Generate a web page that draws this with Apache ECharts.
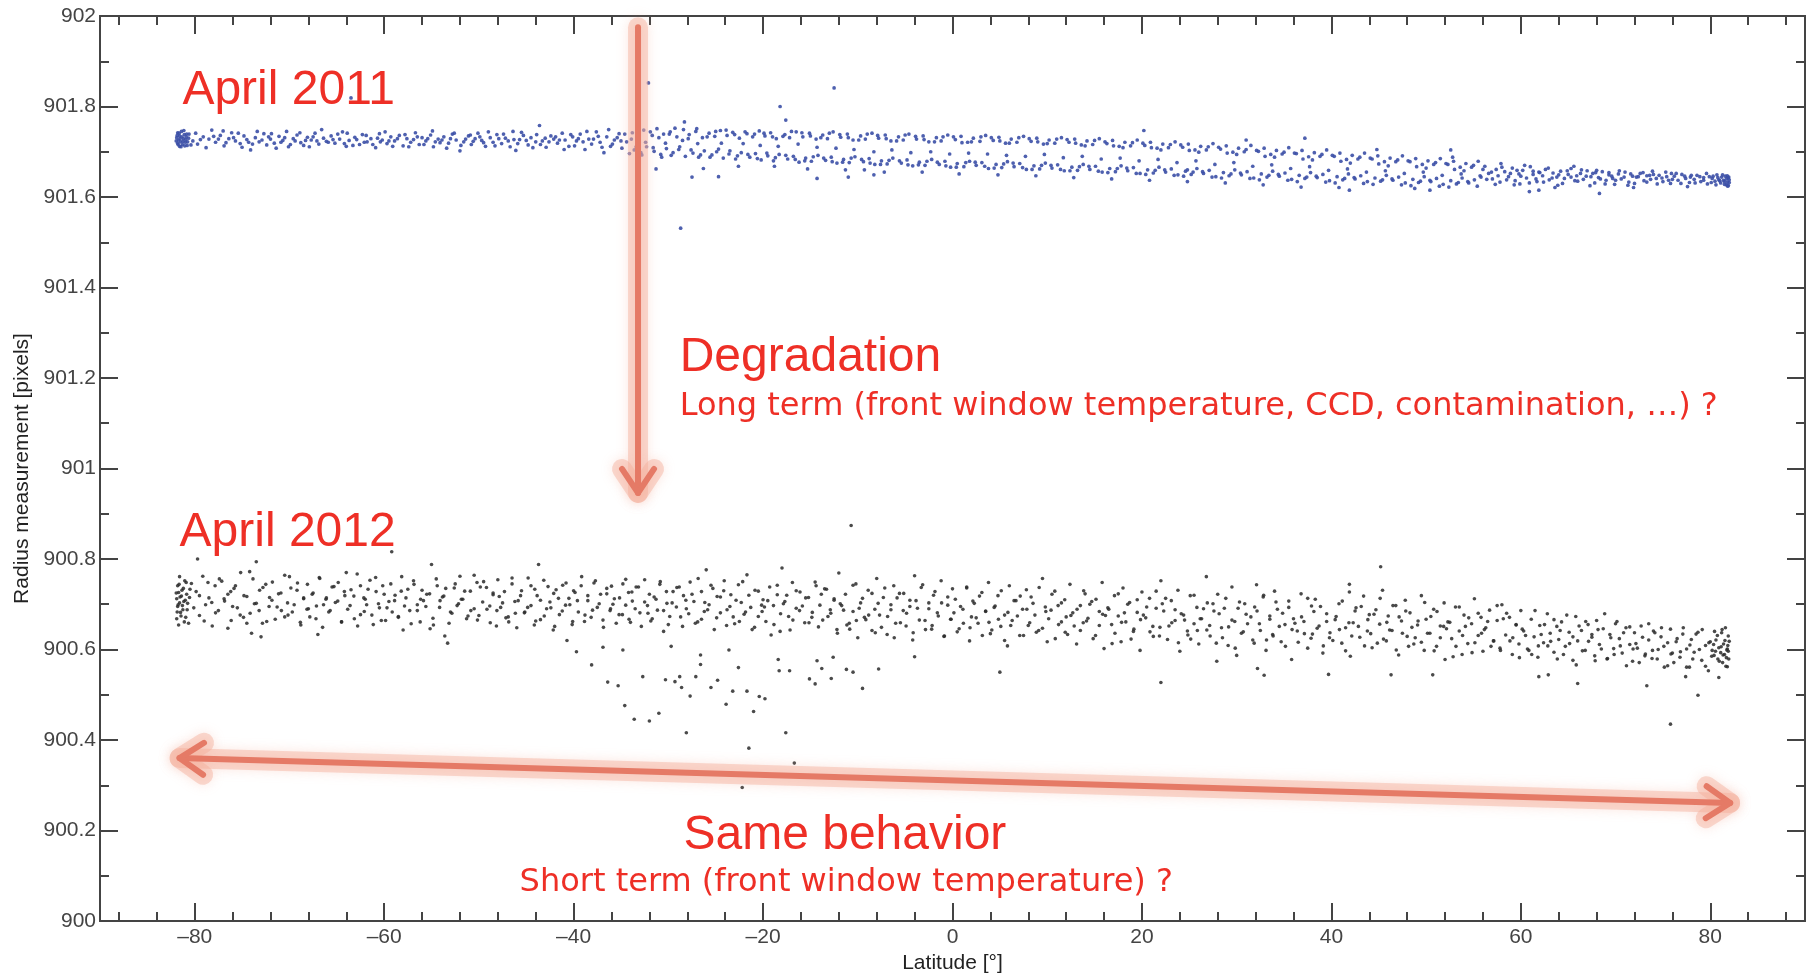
<!DOCTYPE html>
<html><head><meta charset="utf-8">
<script src="https://cdn.jsdelivr.net/npm/echarts@6/dist/echarts.min.js"></script>
<style>html,body{margin:0;padding:0;background:#fff}#c{width:1816px;height:973px}</style>
</head><body><div id="c"></div>
<script>
// ---- axis ticks ----
const xMajorTicks = [-80,-60,-40,-20,0,20,40,60,80];
const xMinorTicks = [-88,-84,-76,-72,-68,-64,-56,-52,-48,-44,-36,-32,-28,-24,-16,-12,-8,-4,4,8,12,16,24,28,32,36,44,48,52,56,64,68,72,76,84,88];

// ---- April 2011 (blue) : [latitude, radius] ----
const april2011 = [
[-81.9,901.731],[-81.8,901.719],[-81.8,901.742],[-81.7,901.726],[-81.6,901.712],[-81.6,901.735],[-81.5,901.722],[-81.4,901.745],[-81.3,901.716],[-81.2,901.729],[-81.1,901.738],[-81.0,901.721],[-80.9,901.733],[-80.8,901.714],
[-81.95,901.724],[-81.85,901.736],[-81.75,901.716],[-81.65,901.741],[-81.55,901.729],[-81.45,901.711],[-81.35,901.733],[-81.25,901.723],[-81.15,901.747],[-81.05,901.713],[-80.95,901.727],[-80.85,901.739],[-80.75,901.722],[-80.65,901.730],
[-80.6,901.739],[-80.2,901.724],[-79.7,901.717],[-79.1,901.733],[-78.5,901.728],[-78.2,901.748],[-80.4,901.715],[-79.9,901.741],[-79.4,901.727],[-78.8,901.709],
[-77.8,901.721],[-77.3,901.736],[-76.9,901.713],[-76.4,901.729],[-76.1,901.742],[-78.0,901.734],[-77.5,901.728],[-77.0,901.746],[-76.7,901.720],
[-75.7,901.724],[-75.2,901.718],[-74.8,901.735],[-74.5,901.727],[-74.1,901.704],[-75.9,901.731],[-75.4,901.741],[-75.0,901.710],[-74.3,901.721],
[-73.6,901.731],[-73.2,901.722],[-72.7,901.740],[-72.4,901.715],[-72.0,901.728],[-73.9,901.717],[-73.4,901.745],[-72.9,901.726],[-72.2,901.733],
[-71.6,901.719],[-71.1,901.734],[-70.7,901.725],[-70.3,901.745],[-70.1,901.711],[-71.9,901.740],[-71.4,901.708],[-70.9,901.721],[-70.5,901.731],
[-69.6,901.729],[-69.2,901.737],[-68.8,901.720],[-68.5,901.714],[-68.1,901.732],[-69.9,901.716],[-69.4,901.724],[-68.9,901.742],[-68.3,901.725],
[-67.7,901.726],[-67.3,901.741],[-66.9,901.717],[-66.4,901.730],[-66.1,901.723],[-67.9,901.711],[-67.5,901.733],[-67.1,901.724],[-66.6,901.749],
[-65.6,901.735],[-65.2,901.719],[-64.7,901.728],[-64.4,901.744],[-64.0,901.712],[-65.9,901.721],[-65.4,901.727],[-64.9,901.739],[-64.2,901.718],
[-63.7,901.725],[-63.1,901.732],[-62.6,901.716],[-62.3,901.738],[-63.9,901.741],[-63.3,901.714],[-62.9,901.727],[-62.1,901.721],
[-61.8,901.722],[-61.4,901.729],[-60.9,901.709],[-60.5,901.740],[-60.2,901.726],[-61.9,901.736],[-61.2,901.716],[-60.7,901.730],[-60.4,901.722],
[-59.7,901.718],[-59.3,901.733],[-58.9,901.724],[-58.4,901.736],[-58.0,901.713],[-59.9,901.744],[-59.5,901.724],[-59.1,901.712],[-58.6,901.729],
[-57.6,901.729],[-57.2,901.721],[-56.7,901.742],[-56.3,901.716],[-56.0,901.731],[-57.8,901.738],[-57.4,901.711],[-56.9,901.727],[-56.5,901.733],
[-55.6,901.724],[-55.1,901.737],[-54.8,901.711],[-54.3,901.728],[-54.1,901.720],[-55.8,901.716],[-55.4,901.729],[-54.9,901.746],[-54.6,901.722],
[-53.7,901.733],[-53.2,901.719],[-52.8,901.739],[-52.4,901.726],[-52.0,901.702],[-53.9,901.726],[-53.4,901.708],[-53.0,901.729],[-52.6,901.741],
[-51.6,901.722],[-51.1,901.735],[-50.8,901.716],[-50.4,901.729],[-50.1,901.741],[-51.9,901.714],[-51.4,901.728],[-50.9,901.737],[-50.6,901.723],
[-49.7,901.725],[-49.3,901.712],[-48.8,901.731],[-48.5,901.721],[-48.1,901.738],[-49.9,901.733],[-49.5,901.720],[-49.0,901.744],[-48.3,901.713],
[-47.6,901.718],[-47.2,901.730],[-46.9,901.724],[-46.4,901.745],[-46.1,901.703],[-47.9,901.729],[-47.4,901.739],[-46.7,901.711],[-46.3,901.727],
[-45.7,901.727],[-45.3,901.736],[-44.8,901.715],[-44.5,901.731],[-44.0,901.722],[-45.9,901.718],[-45.5,901.743],[-45.0,901.725],[-44.3,901.709],
[-43.3,901.724],[-42.9,901.710],[-42.4,901.735],[-42.1,901.728],[-43.9,901.738],[-43.5,901.716],[-43.0,901.730],[-42.6,901.722],
[-41.7,901.719],[-41.2,901.741],[-40.9,901.726],[-40.5,901.712],[-40.1,901.733],[-41.9,901.733],[-41.5,901.726],[-41.0,901.705],[-40.3,901.738],
[-39.7,901.724],[-39.3,901.739],[-38.8,901.705],[-38.4,901.728],[-38.1,901.717],[-39.9,901.713],[-39.5,901.729],[-39.0,901.722],[-38.6,901.745],
[-37.6,901.744],[-37.2,901.721],[-36.8,901.698],[-36.5,901.733],[-36.1,901.712],[-37.9,901.728],[-37.4,901.734],[-37.0,901.710],[-36.3,901.749],
[-35.7,901.726],[-35.2,901.740],[-34.9,901.708],[-34.4,901.722],[-34.1,901.696],[-35.9,901.717],[-35.4,901.731],[-35.0,901.724],[-34.6,901.739],
[-33.8,901.742],[-33.3,901.733],[-32.6,901.748],[-33.6,901.704],[-32.9,901.698],[-32.3,901.711],[-33.9,901.728],[-33.1,901.746],[-33.4,901.711],[-32.8,901.693],[-32.4,901.721],
[-31.7,901.736],[-31.2,901.751],[-30.5,901.739],[-31.5,901.701],[-30.8,901.694],[-30.2,901.707],[-31.9,901.744],[-31.0,901.731],[-31.6,901.709],[-30.7,901.688],[-30.3,901.719],[-31.3,901.662],
[-29.8,901.744],[-29.1,901.733],[-28.4,901.749],[-29.5,901.698],[-28.9,901.705],[-28.2,901.690],[-29.9,901.739],[-29.3,901.752],[-29.7,901.692],[-28.8,901.711],[-28.5,901.725],
[-27.8,901.738],[-27.1,901.745],[-26.4,901.731],[-27.4,901.697],[-26.8,901.688],[-26.2,901.702],[-27.9,901.729],[-27.0,901.751],[-27.6,901.704],[-26.6,901.693],[-26.9,901.718],[-26.3,901.663],
[-25.7,901.741],[-25.1,901.734],[-24.5,901.747],[-25.4,901.693],[-24.9,901.700],[-24.2,901.686],[-25.9,901.733],[-25.0,901.745],[-25.6,901.688],[-24.7,901.706],[-24.4,901.719],
[-23.8,901.736],[-23.2,901.743],[-22.5,901.730],[-23.6,901.695],[-22.9,901.684],[-22.3,901.698],[-23.9,901.748],[-23.0,901.738],[-23.5,901.702],[-22.7,901.691],[-22.1,901.718],[-22.6,901.668],
[-21.7,901.740],[-21.1,901.733],[-20.4,901.746],[-21.4,901.688],[-20.8,901.696],[-20.2,901.682],[-21.9,901.744],[-20.9,901.739],[-21.6,901.694],[-20.6,901.685],[-20.3,901.714],
[-19.8,901.735],[-19.2,901.742],[-18.6,901.729],[-19.5,901.691],[-18.9,901.680],[-18.3,901.694],[-19.9,901.741],[-19.0,901.733],[-19.6,901.697],[-18.7,901.687],[-18.4,901.712],[-18.8,901.668],
[-17.7,901.738],[-17.2,901.731],[-16.5,901.744],[-17.4,901.684],[-16.8,901.690],[-16.2,901.677],[-17.9,901.734],[-17.0,901.745],[-17.6,901.692],[-16.6,901.683],[-16.3,901.717],
[-15.8,901.733],[-15.1,901.741],[-14.4,901.728],[-15.5,901.686],[-14.9,901.679],[-14.2,901.692],[-15.9,901.742],[-15.0,901.735],[-15.6,901.680],[-14.7,901.689],[-14.3,901.710],[-15.3,901.662],
[-13.7,901.737],[-13.2,901.729],[-12.6,901.744],[-13.4,901.681],[-12.8,901.688],[-12.2,901.675],[-13.9,901.731],[-13.0,901.741],[-13.6,901.686],[-12.7,901.678],[-12.3,901.708],
[-11.8,901.732],[-11.1,901.739],[-10.5,901.726],[-11.5,901.683],[-10.9,901.676],[-10.3,901.689],[-11.9,901.738],[-11.0,901.731],[-11.6,901.677],[-10.7,901.686],[-10.4,901.705],[-11.3,901.660],
[-9.7,901.735],[-9.2,901.728],[-8.5,901.741],[-9.4,901.678],[-8.8,901.685],[-8.2,901.672],[-9.9,901.726],[-9.0,901.739],[-9.6,901.683],[-8.7,901.675],[-8.3,901.700],
[-7.8,901.730],[-7.1,901.737],[-6.5,901.724],[-7.5,901.680],[-6.9,901.673],[-6.3,901.686],[-7.9,901.736],[-7.0,901.729],[-7.6,901.672],[-6.7,901.681],[-6.4,901.704],[-7.2,901.655],
[-5.7,901.733],[-5.2,901.726],[-4.6,901.739],[-5.4,901.675],[-4.8,901.682],[-4.2,901.669],[-5.9,901.724],[-5.0,901.737],[-5.6,901.680],[-4.7,901.671],[-4.4,901.698],
[-3.8,901.728],[-3.1,901.735],[-2.5,901.722],[-3.5,901.677],[-2.9,901.670],[-2.2,901.683],[-3.9,901.734],[-3.0,901.727],[-3.6,901.671],[-2.7,901.679],[-2.3,901.700],[-3.2,901.655],
[-1.7,901.731],[-1.2,901.724],[-0.5,901.737],[-1.4,901.672],[-0.8,901.679],[-0.2,901.666],[-1.9,901.722],[-1.0,901.733],[-1.6,901.677],[-0.7,901.669],[-0.3,901.695],
[0.3,901.727],[0.9,901.734],[1.6,901.721],[0.5,901.674],[1.2,901.667],[1.8,901.679],[0.1,901.733],[1.0,901.720],[0.4,901.666],[1.4,901.676],[1.7,901.697],[0.7,901.651],
[2.2,901.730],[2.9,901.723],[3.5,901.736],[2.5,901.670],[3.1,901.676],[3.8,901.663],[2.0,901.722],[3.0,901.733],[2.4,901.677],[3.4,901.668],[3.7,901.695],
[4.3,901.725],[4.9,901.732],[5.6,901.719],[4.6,901.672],[5.2,901.665],[5.8,901.678],[4.1,901.731],[5.0,901.724],[4.4,901.664],[5.4,901.673],[5.7,901.692],[4.8,901.649],
[6.2,901.728],[6.8,901.721],[7.5,901.734],[6.5,901.667],[7.1,901.674],[7.8,901.661],[6.0,901.719],[7.0,901.731],[6.4,901.675],[7.4,901.665],[7.7,901.690],
[8.3,901.723],[8.9,901.730],[9.6,901.717],[8.6,901.669],[9.2,901.662],[9.8,901.675],[8.1,901.729],[9.0,901.722],[8.4,901.661],[9.4,901.670],[9.7,901.694],[8.8,901.647],
[10.2,901.726],[10.8,901.719],[11.5,901.731],[10.5,901.664],[11.1,901.671],[11.8,901.658],[10.0,901.718],[11.0,901.728],[10.4,901.670],[11.4,901.661],[11.7,901.687],
[12.3,901.721],[12.9,901.728],[13.6,901.715],[12.6,901.666],[13.2,901.659],[13.8,901.672],[12.1,901.727],[13.0,901.719],[12.4,901.658],[13.4,901.667],[13.7,901.690],[12.8,901.643],
[14.2,901.724],[14.8,901.716],[15.5,901.729],[14.5,901.661],[15.1,901.668],[15.8,901.655],[14.0,901.713],[15.0,901.725],[14.4,901.668],[15.4,901.657],[15.7,901.684],
[16.3,901.718],[16.9,901.725],[17.6,901.712],[16.6,901.663],[17.2,901.656],[17.8,901.669],[16.1,901.722],[17.0,901.713],[16.4,901.654],[17.4,901.663],[17.7,901.686],[16.8,901.640],
[18.2,901.721],[18.8,901.713],[19.5,901.726],[18.5,901.658],[19.1,901.665],[19.8,901.652],[18.0,901.709],[19.0,901.720],[18.4,901.664],[19.4,901.652],[19.7,901.680],
[20.3,901.714],[20.9,901.721],[21.6,901.708],[20.6,901.660],[21.2,901.653],[21.8,901.666],[20.1,901.719],[21.0,901.709],[20.4,901.650],[21.4,901.659],[21.7,901.683],[20.8,901.637],
[22.2,901.717],[22.8,901.709],[23.5,901.722],[22.5,901.655],[23.1,901.662],[23.8,901.649],[22.0,901.704],[23.0,901.716],[22.4,901.660],[23.4,901.648],[23.7,901.676],
[24.3,901.710],[24.9,901.717],[25.6,901.704],[24.6,901.657],[25.2,901.650],[25.8,901.663],[24.1,901.715],[25.0,901.703],[24.4,901.646],[25.4,901.655],[25.7,901.680],[24.8,901.634],
[26.2,901.712],[26.8,901.704],[27.5,901.718],[26.5,901.652],[27.1,901.659],[27.8,901.645],[26.0,901.699],[27.0,901.711],[26.4,901.656],[27.4,901.644],[27.7,901.672],
[28.3,901.706],[28.9,901.713],[29.6,901.699],[28.6,901.654],[29.2,901.647],[29.8,901.660],[28.1,901.710],[29.0,901.697],[28.4,901.642],[29.4,901.651],[29.7,901.676],[28.8,901.631],
[30.2,901.708],[30.8,901.700],[31.5,901.714],[30.5,901.649],[31.1,901.656],[31.8,901.642],[30.0,901.694],[31.0,901.705],[30.4,901.653],[31.4,901.641],[31.7,901.668],
[32.3,901.701],[32.9,901.708],[33.6,901.694],[32.6,901.651],[33.2,901.644],[33.8,901.657],[32.1,901.703],[33.0,901.690],[32.4,901.638],[33.4,901.648],[33.7,901.671],[32.8,901.627],
[34.2,901.703],[34.8,901.695],[35.5,901.709],[34.5,901.646],[35.1,901.653],[35.8,901.639],[34.0,901.688],[35.0,901.699],[34.4,901.650],[35.4,901.637],[35.7,901.663],
[36.3,901.696],[36.9,901.703],[37.6,901.689],[36.6,901.648],[37.2,901.641],[37.8,901.654],[36.1,901.697],[37.0,901.684],[36.4,901.634],[37.4,901.644],[37.7,901.667],[36.8,901.622],
[38.2,901.698],[38.8,901.690],[39.5,901.704],[38.5,901.643],[39.1,901.650],[39.8,901.636],[38.0,901.682],[39.0,901.694],[38.4,901.646],[39.4,901.633],[39.7,901.659],
[40.3,901.690],[40.9,901.697],[41.6,901.683],[40.6,901.645],[41.2,901.638],[41.8,901.651],[40.1,901.692],[41.0,901.679],[40.4,901.631],[41.4,901.641],[41.7,901.662],[40.8,901.621],
[42.2,901.692],[42.8,901.684],[43.5,901.697],[42.5,901.640],[43.1,901.647],[43.8,901.634],[42.0,901.675],[43.0,901.688],[42.4,901.643],[43.4,901.630],[43.7,901.655],
[44.3,901.684],[44.9,901.691],[45.6,901.678],[44.6,901.642],[45.2,901.635],[45.8,901.648],[44.1,901.686],[45.0,901.673],[44.4,901.628],[45.4,901.638],[45.7,901.658],[44.8,901.705],
[46.2,901.686],[46.8,901.678],[47.5,901.691],[46.5,901.637],[47.1,901.644],[47.8,901.631],[46.0,901.669],[47.0,901.682],[46.4,901.640],[47.4,901.627],[47.7,901.652],
[48.3,901.678],[48.9,901.685],[49.6,901.672],[48.6,901.639],[49.2,901.632],[49.8,901.645],[48.1,901.680],[49.0,901.667],[48.4,901.625],[49.4,901.635],[49.7,901.655],[48.8,901.619],
[50.2,901.680],[50.8,901.672],[51.5,901.685],[50.5,901.634],[51.1,901.641],[51.8,901.628],[50.0,901.664],[51.0,901.676],[50.4,901.637],[51.4,901.624],[51.7,901.648],
[52.3,901.672],[52.9,901.679],[53.6,901.666],[52.6,901.636],[53.2,901.629],[53.8,901.642],[52.1,901.674],[53.0,901.661],[52.4,901.622],[53.4,901.632],[53.7,901.651],[52.8,901.688],
[54.2,901.674],[54.8,901.666],[55.5,901.679],[54.5,901.631],[55.1,901.638],[55.8,901.644],[54.0,901.658],[55.0,901.670],[54.4,901.634],[55.4,901.624],[55.7,901.647],
[56.2,901.668],[56.6,901.652],[57.0,901.640],[57.4,901.661],[57.8,901.633],[57.9,901.674],[56.0,901.661],[56.4,901.639],[56.9,901.655],[57.3,901.628],[57.6,901.647],
[58.3,901.656],[58.7,901.645],[59.1,901.664],[59.4,901.636],[59.8,901.651],[59.9,901.629],[58.0,901.666],[58.5,901.638],[58.9,901.652],[59.3,901.627],[59.6,901.659],
[60.2,901.659],[60.6,901.642],[61.0,901.667],[61.3,901.650],[61.7,901.634],[61.9,901.655],[60.0,901.646],[60.4,901.670],[60.9,901.631],[61.3,901.657],[61.6,901.640],
[62.3,901.647],[62.6,901.661],[63.0,901.638],[63.4,901.653],[63.8,901.644],[63.9,901.626],[62.0,901.654],[62.4,901.633],[62.9,901.664],[63.3,901.642],[63.6,901.621],
[64.2,901.657],[64.6,901.641],[65.0,901.650],[65.3,901.663],[65.7,901.636],[65.9,901.647],[64.0,901.649],[64.4,901.630],[64.9,901.658],[65.3,901.644],[65.6,901.668],
[66.3,901.652],[66.6,901.639],[67.0,901.658],[67.4,901.645],[67.8,901.631],[67.9,901.654],[66.0,901.635],[66.4,901.660],[66.9,901.646],[67.3,901.625],[67.6,901.652],
[68.2,901.643],[68.6,901.656],[69.0,901.637],[69.3,901.649],[69.7,901.641],[69.9,901.628],[68.0,901.659],[68.4,901.640],[68.9,901.629],[69.3,901.654],[69.6,901.646],
[70.3,901.651],[70.6,901.640],[71.0,901.655],[71.4,901.633],[71.8,901.646],[71.9,901.621],[70.0,901.637],[70.4,901.658],[70.9,901.644],[71.3,901.626],[71.6,901.651],
[72.2,901.644],[72.6,901.652],[73.0,901.636],[73.3,901.647],[73.7,901.639],[73.9,901.657],[72.0,901.630],[72.4,901.645],[72.9,901.654],[73.3,901.633],[73.6,901.648],
[74.3,901.641],[74.6,901.648],[75.0,901.634],[75.4,901.645],[75.8,901.630],[75.9,901.652],[74.0,901.650],[74.4,901.629],[74.9,901.642],[75.3,901.655],[75.6,901.637],
[76.2,901.646],[76.6,901.637],[77.0,901.650],[77.4,901.641],[77.8,901.632],[77.9,901.644],[76.0,901.639],[76.4,901.652],[76.9,901.630],[77.3,901.646],[77.6,901.623],
[78.3,901.639],[78.6,901.648],[79.0,901.634],[79.3,901.643],[79.7,901.629],[79.9,901.645],[78.0,901.648],[78.4,901.631],[78.9,901.645],[79.3,901.637],[79.6,901.652],
[80.2,901.641],[80.5,901.635],[80.7,901.649],[80.9,901.638],[81.1,901.631],[81.2,901.644],[81.4,901.637],[81.5,901.628],[81.6,901.646],[81.7,901.640],[81.8,901.633],[81.9,901.642],[81.9,901.626],[82.0,901.638],
[80.1,901.632],[80.3,901.646],[80.6,901.627],[80.8,901.643],[81.0,901.636],[81.3,901.649],[81.5,901.634],[81.7,901.627],[81.8,901.647],[82.0,901.632],[81.95,901.644],[81.85,901.624],
// isolated points
[-63.5,901.819],[-43.6,901.758],[-32.1,901.852],[-28.7,901.531],[-27.5,901.644],[-28.3,901.766],[-24.7,901.645],[-18.2,901.800],[-17.6,901.770],
[-14.3,901.641],[-12.5,901.841],[-11.0,901.644],[-9.3,901.660],[-8.3,901.649],[20.2,901.747],[24.8,901.660],[31.0,901.726],[37.2,901.730],
[41.9,901.615],[50.4,901.615],[52.6,901.704],[60.9,901.612],[61.9,901.615],[68.3,901.608]
];

// ---- April 2012 (black) : [latitude, radius] ----
const april2012 = [
[-81.9,900.712],[-81.9,900.668],[-81.8,900.741],[-81.8,900.695],[-81.7,900.654],[-81.7,900.726],[-81.6,900.703],[-81.6,900.761],[-81.5,900.682],[-81.4,900.718],[-81.3,900.697],[-81.2,900.735],[-81.1,900.661],[-81.0,900.709],[-80.9,900.748],[-80.8,900.688],
[-81.95,900.725],[-81.85,900.683],[-81.75,900.699],[-81.65,900.744],[-81.55,900.716],[-81.45,900.674],[-81.35,900.731],[-81.25,900.688],[-81.15,900.706],[-81.05,900.752],[-80.95,900.671],[-80.85,900.722],[-80.75,900.702],[-80.65,900.658],[-80.55,900.715],[-80.35,900.746],
[-80.5,900.733],[-80.1,900.692],[-79.5,900.719],[-79.0,900.663],[-78.6,900.748],[-78.2,900.704],
[-79.85,900.728],[-79.5,900.675],[-79.15,900.762],[-78.85,900.699],[-78.5,900.714],[-78.15,900.652],
[-77.8,900.681],[-77.4,900.756],[-76.9,900.712],[-76.5,900.647],[-76.2,900.728],[-76.0,900.695],
[-77.85,900.741],[-77.5,900.686],[-77.15,900.751],[-76.85,900.707],[-76.5,900.722],[-76.15,900.664],
[-75.7,900.741],[-75.2,900.676],[-74.8,900.719],[-74.5,900.658],[-74.2,900.772],
[-75.85,900.735],[-75.5,900.692],[-75.15,900.770],[-74.85,900.671],[-74.5,900.717],[-74.15,900.680],
[-73.7,900.701],[-73.2,900.686],[-72.8,900.737],[-72.4,900.662],[-72.1,900.715],
[-73.85,900.756],[-73.5,900.702],[-73.15,900.731],[-72.85,900.658],[-72.5,900.744],[-72.15,900.695],
[-71.8,900.749],[-71.3,900.694],[-70.9,900.725],[-70.5,900.672],[-70.2,900.703],[-70.0,900.761],
[-71.85,900.709],[-71.5,900.667],[-71.15,900.723],[-70.85,900.686],[-70.5,900.764],[-70.15,900.676],
[-69.7,900.683],[-69.2,900.731],[-68.8,900.654],[-68.5,900.712],[-68.1,900.744],[-68.0,900.690],
[-69.85,900.736],[-69.5,900.699],[-69.15,900.747],[-68.85,900.660],[-68.5,900.714],[-68.15,900.689],
[-67.6,900.722],[-67.2,900.668],[-66.8,900.757],[-66.4,900.699],[-66.1,900.714],
[-67.85,900.672],[-67.5,900.725],[-67.15,900.696],[-66.85,900.759],[-66.5,900.649],[-66.15,900.711],
[-65.7,900.686],[-65.3,900.739],[-64.9,900.707],[-64.5,900.661],[-64.2,900.728],[-64.0,900.770],
[-65.85,900.683],[-65.5,900.738],[-65.15,900.704],[-64.85,900.748],[-64.5,900.661],[-64.15,900.719],
[-63.6,900.697],[-63.2,900.718],[-62.8,900.652],[-62.5,900.741],[-62.1,900.684],[-62.0,900.711],
[-63.85,900.689],[-63.5,900.732],[-63.15,900.668],[-62.85,900.767],[-62.5,900.677],[-62.15,900.714],
[-61.7,900.733],[-61.3,900.676],[-60.9,900.759],[-60.6,900.701],[-60.3,900.664],[-60.0,900.722],
[-61.85,900.699],[-61.5,900.753],[-61.15,900.655],[-60.85,900.728],[-60.5,900.692],[-60.15,900.741],
[-59.7,900.692],[-59.3,900.745],[-58.9,900.708],[-58.5,900.671],[-58.2,900.729],[-58.0,900.643],
[-59.85,900.664],[-59.5,900.706],[-59.15,900.683],[-58.85,900.720],[-58.5,900.673],[-58.15,900.761],
[-57.7,900.714],[-57.3,900.686],[-56.9,900.752],[-56.5,900.699],[-56.2,900.661],[-56.0,900.731],
[-57.85,900.696],[-57.5,900.733],[-57.15,900.657],[-56.85,900.744],[-56.5,900.686],[-56.15,900.711],
[-55.6,900.695],[-55.2,900.723],[-54.8,900.654],[-54.4,900.741],[-54.1,900.708],
[-55.85,900.708],[-55.5,900.722],[-55.15,900.646],[-54.85,900.669],[-54.5,900.756],[-54.15,900.693],
[-53.7,900.718],[-53.0,900.683],[-52.6,900.736],[-52.3,900.697],[-52.0,900.762],
[-53.85,900.716],[-53.5,900.735],[-53.15,900.658],[-52.85,900.680],[-52.5,900.745],[-52.15,900.701],
[-51.7,900.711],[-51.3,900.668],[-50.9,900.729],[-50.5,900.690],[-50.2,900.748],[-50.0,900.675],
[-51.85,900.711],[-51.5,900.729],[-51.15,900.674],[-50.85,900.686],[-50.5,900.764],[-50.15,900.665],
[-49.6,900.705],[-49.2,900.737],[-48.8,900.659],[-48.5,900.721],[-48.1,900.686],[-48.0,900.754],
[-49.85,900.738],[-49.5,900.750],[-49.15,900.689],[-48.85,900.696],[-48.5,900.725],[-48.15,900.652],
[-47.7,900.693],[-47.3,900.728],[-46.9,900.672],[-46.5,900.745],[-46.2,900.706],[-46.0,900.648],
[-47.85,900.717],[-47.5,900.703],[-47.15,900.670],[-46.85,900.661],[-46.5,900.758],[-46.15,900.680],
[-45.6,900.719],[-45.2,900.681],[-44.8,900.758],[-44.5,900.697],[-44.1,900.733],[-44.0,900.663],
[-45.85,900.708],[-45.5,900.730],[-45.15,900.683],[-44.85,900.693],[-44.5,900.741],[-44.15,900.654],
[-43.5,900.709],[-43.1,900.674],[-42.7,900.739],[-42.4,900.692],[-42.1,900.724],[-42.0,900.651],
[-43.85,900.719],[-43.5,900.666],[-43.15,900.753],[-42.85,900.690],[-42.5,900.705],[-42.15,900.643],
[-41.6,900.713],[-41.2,900.685],[-40.8,900.747],[-40.4,900.699],[-40.1,900.662],[-40.0,900.730],
[-41.85,900.732],[-41.5,900.677],[-41.15,900.742],[-40.85,900.698],[-40.5,900.713],[-40.15,900.655],
[-39.6,900.708],[-39.2,900.741],[-38.8,900.676],[-38.5,900.719],[-38.0,900.687],
[-39.85,900.726],[-39.5,900.683],[-39.15,900.761],[-38.85,900.662],[-38.5,900.708],[-38.15,900.671],
[-37.7,900.752],[-37.3,900.701],[-36.9,900.665],[-36.5,900.723],[-36.1,900.690],[-36.0,900.740],
[-37.85,900.747],[-37.5,900.693],[-37.15,900.722],[-36.85,900.649],[-36.5,900.735],[-36.15,900.686],
[-35.7,900.712],[-35.2,900.677],[-34.8,900.745],[-34.5,900.698],[-34.2,900.726],[-34.0,900.660],
[-35.85,900.700],[-35.5,900.658],[-35.15,900.714],[-34.85,900.677],[-34.5,900.755],[-34.15,900.667],
[-33.8,900.707],[-33.4,900.738],[-33.0,900.681],[-32.5,900.754],[-32.2,900.697],[-32.0,900.722],
[-33.85,900.727],[-33.5,900.690],[-33.15,900.738],[-32.85,900.651],[-32.5,900.705],[-32.15,900.680],
[-31.7,900.668],[-31.3,900.711],[-30.9,900.744],[-30.5,900.686],[-30.2,900.728],[-30.0,900.655],
[-31.85,900.663],[-31.5,900.716],[-31.15,900.687],[-30.85,900.750],[-30.5,900.640],[-30.15,900.702],
[-29.6,900.703],[-29.1,900.737],[-28.7,900.672],[-28.4,900.719],[-28.1,900.690],
[-29.85,900.673],[-29.5,900.728],[-29.15,900.694],[-28.85,900.738],[-28.5,900.651],[-28.15,900.709],
[-27.7,900.749],[-27.3,900.706],[-26.9,900.661],[-26.5,900.728],[-26.2,900.684],[-26.0,900.776],
[-27.85,900.679],[-27.5,900.722],[-27.15,900.658],[-26.85,900.757],[-26.5,900.667],[-26.15,900.704],
[-25.7,900.699],[-25.3,900.735],[-24.9,900.670],[-24.5,900.716],[-24.1,900.752],
[-25.85,900.688],[-25.5,900.742],[-25.15,900.644],[-24.85,900.717],[-24.5,900.681],[-24.15,900.730],
[-23.8,900.688],[-23.4,900.721],[-23.0,900.657],[-22.6,900.743],[-22.3,900.704],[-22.0,900.678],
[-23.85,900.653],[-23.5,900.695],[-23.15,900.672],[-22.85,900.709],[-22.5,900.662],[-22.15,900.750],
[-21.7,900.765],[-21.3,900.693],[-20.9,900.649],[-20.5,900.729],[-20.1,900.684],[-20.0,900.710],
[-21.85,900.683],[-21.5,900.720],[-21.15,900.644],[-20.85,900.731],[-20.5,900.673],[-20.15,900.698],
[-19.7,900.662],[-19.3,900.738],[-18.9,900.697],[-18.5,900.721],[-18.2,900.640],[-18.0,900.780],
[-19.85,900.694],[-19.5,900.708],[-19.15,900.632],[-18.85,900.655],[-18.5,900.742],[-18.15,900.679],
[-17.7,900.706],[-17.3,900.673],[-16.9,900.748],[-16.5,900.691],[-16.1,900.727],
[-17.85,900.701],[-17.5,900.720],[-17.15,900.643],[-16.85,900.665],[-16.5,900.730],[-16.15,900.686],
[-15.6,900.659],[-15.2,900.715],[-14.8,900.682],[-14.4,900.741],[-14.0,900.698],
[-15.85,900.696],[-15.5,900.714],[-15.15,900.659],[-14.85,900.671],[-14.5,900.749],[-14.15,900.650],
[-13.7,900.665],[-13.3,900.733],[-12.9,900.688],[-12.5,900.712],[-12.2,900.644],[-12.0,900.769],
[-13.85,900.722],[-13.5,900.734],[-13.15,900.673],[-12.85,900.680],[-12.5,900.709],[-12.15,900.636],
[-11.7,900.697],[-11.3,900.722],[-10.9,900.658],[-10.5,900.684],[-10.2,900.745],[-10.0,900.626],
[-11.85,900.701],[-11.5,900.687],[-11.15,900.654],[-10.85,900.645],[-10.5,900.742],[-10.15,900.664],
[-9.7,900.703],[-9.3,900.671],[-8.9,900.731],[-8.5,900.642],[-8.2,900.689],[-8.0,900.757],
[-9.85,900.691],[-9.5,900.713],[-9.15,900.666],[-8.85,900.676],[-8.5,900.724],[-8.15,900.637],
[-7.7,900.676],[-7.3,900.715],[-6.9,900.633],[-6.5,900.699],[-6.2,900.741],[-6.0,900.658],
[-7.85,900.702],[-7.5,900.649],[-7.15,900.736],[-6.85,900.673],[-6.5,900.688],[-6.15,900.626],
[-5.6,900.724],[-5.2,900.686],[-4.9,900.652],[-4.5,900.709],[-4.2,900.621],[-4.0,900.763],
[-5.85,900.714],[-5.5,900.659],[-5.15,900.724],[-4.85,900.680],[-4.5,900.695],[-4.15,900.637],
[-3.7,900.691],[-3.3,900.737],[-2.9,900.664],[-2.5,900.703],[-2.2,900.645],[-2.0,900.720],
[-3.85,900.708],[-3.5,900.665],[-3.15,900.743],[-2.85,900.644],[-2.5,900.690],[-2.15,900.653],
[-1.6,900.681],[-1.2,900.752],[-0.9,900.629],[-0.5,900.698],[-0.2,900.667],[0.0,900.734],
[-1.85,900.728],[-1.5,900.674],[-1.15,900.703],[-0.85,900.630],[-0.5,900.716],[-0.15,900.667],
[0.3,900.711],[0.7,900.646],[1.1,900.689],[1.5,900.738],[1.8,900.619],[2.0,900.672],
[0.15,900.681],[0.5,900.639],[0.85,900.695],[1.15,900.658],[1.5,900.736],[1.85,900.648],
[2.3,900.702],[2.7,900.658],[3.1,900.726],[3.5,900.684],[3.8,900.748],[4.0,900.635],
[2.15,900.707],[2.5,900.670],[2.85,900.718],[3.15,900.631],[3.5,900.685],[3.85,900.660],
[4.4,900.693],[4.8,900.719],[5.1,900.651],[5.5,900.676],[5.8,900.608],[6.0,900.741],
[4.15,900.643],[4.5,900.696],[4.85,900.667],[5.15,900.730],[5.5,900.620],[5.85,900.682],
[6.3,900.664],[6.7,900.708],[7.1,900.631],[7.4,900.689],[7.8,900.732],[8.0,900.653],
[6.15,900.653],[6.5,900.708],[6.85,900.674],[7.15,900.718],[7.5,900.631],[7.85,900.689],
[8.3,900.716],[8.7,900.676],[9.1,900.642],[9.5,900.757],[9.8,900.694],[10.0,900.617],
[8.15,900.659],[8.5,900.702],[8.85,900.638],[9.15,900.737],[9.5,900.647],[9.85,900.684],
[10.4,900.687],[10.8,900.729],[11.2,900.655],[11.5,900.703],[11.9,900.638],[12.0,900.672],
[10.15,900.668],[10.5,900.722],[10.85,900.624],[11.15,900.697],[11.5,900.661],[11.85,900.710],
[12.4,900.744],[12.7,900.681],[13.1,900.612],[13.5,900.697],[13.8,900.659],[14.0,900.723],
[12.15,900.633],[12.5,900.675],[12.85,900.652],[13.15,900.689],[13.5,900.642],[13.85,900.730],
[14.3,900.669],[14.7,900.706],[15.1,900.631],[15.5,900.684],[15.8,900.748],[16.0,900.602],
[14.15,900.663],[14.5,900.700],[14.85,900.624],[15.15,900.711],[15.5,900.653],[15.85,900.678],
[16.4,900.692],[16.8,900.655],[17.1,900.719],[17.5,900.674],[17.8,900.617],[18.0,900.736],
[16.15,900.675],[16.5,900.689],[16.85,900.613],[17.15,900.636],[17.5,900.723],[17.85,900.660],
[18.3,900.661],[18.7,900.704],[19.1,900.640],[19.5,900.682],[19.8,900.598],[20.0,900.727],
[18.15,900.681],[18.5,900.700],[18.85,900.623],[19.15,900.645],[19.5,900.710],[19.85,900.666],
[20.4,900.670],[20.8,900.713],[21.2,900.629],[21.5,900.691],[21.9,900.649],[22.0,900.752],
[20.15,900.676],[20.5,900.694],[20.85,900.639],[21.15,900.651],[21.5,900.729],[21.85,900.630],
[22.3,900.685],[22.7,900.622],[23.1,900.708],[23.5,900.664],[23.8,900.731],[24.0,900.596],
[22.15,900.701],[22.5,900.713],[22.85,900.652],[23.15,900.659],[23.5,900.688],[23.85,900.615],
[24.4,900.676],[24.8,900.641],[25.1,900.719],[25.5,900.657],[25.8,900.693],[26.0,900.612],
[24.15,900.679],[24.5,900.665],[24.85,900.632],[25.15,900.623],[25.5,900.720],[25.85,900.642],
[26.3,900.668],[26.9,900.703],[27.2,900.630],[27.6,900.685],[27.9,900.574],[28.0,900.722],
[26.15,900.668],[26.5,900.690],[26.85,900.643],[27.15,900.653],[27.5,900.701],[27.85,900.614],
[28.4,900.648],[28.7,900.691],[29.1,900.609],[29.5,900.738],[29.8,900.662],[30.0,900.587],
[28.15,900.679],[28.5,900.626],[28.85,900.713],[29.15,900.650],[29.5,900.665],[29.85,900.603],
[30.3,900.705],[30.7,900.639],[31.0,900.678],[31.7,900.621],[31.9,900.694],
[30.15,900.691],[30.5,900.636],[30.85,900.701],[31.15,900.657],[31.5,900.672],[31.85,900.614],
[32.4,900.657],[32.8,900.716],[33.1,900.598],[33.5,900.674],[33.8,900.633],[34.0,900.729],
[32.15,900.685],[32.5,900.642],[32.85,900.720],[33.15,900.621],[33.5,900.667],[33.85,900.630],
[34.3,900.689],[34.7,900.617],[35.1,900.655],[35.5,900.707],[35.8,900.578],[36.0,900.668],
[34.15,900.705],[34.5,900.651],[34.85,900.680],[35.15,900.607],[35.5,900.693],[35.85,900.644],
[36.4,900.641],[36.8,900.723],[37.1,900.662],[37.5,900.603],[37.9,900.696],[38.0,900.634],
[36.15,900.658],[36.5,900.616],[36.85,900.672],[37.15,900.635],[37.5,900.713],[37.85,900.625],
[38.3,900.711],[38.7,900.652],[39.1,900.592],[39.5,900.679],[39.8,900.626],
[38.15,900.684],[38.5,900.647],[38.85,900.695],[39.15,900.608],[39.5,900.662],[39.85,900.637],
[40.4,900.666],[40.8,900.701],[41.1,900.614],[41.5,900.648],[41.9,900.727],[42.0,900.585],
[40.15,900.620],[40.5,900.673],[40.85,900.644],[41.15,900.707],[41.5,900.597],[41.85,900.659],
[42.3,900.659],[42.6,900.692],[43.0,900.627],[43.4,900.718],[43.8,900.641],[44.0,900.677],
[42.15,900.630],[42.5,900.685],[42.85,900.651],[43.15,900.695],[43.5,900.608],[43.85,900.666],
[44.3,900.604],[44.7,900.688],[45.1,900.656],[45.4,900.731],[45.8,900.619],[46.0,900.674],
[44.15,900.635],[44.5,900.678],[44.85,900.614],[45.15,900.713],[45.5,900.623],[45.85,900.660],
[46.4,900.642],[46.8,900.697],[47.1,900.588],[47.4,900.663],[47.8,900.709],[48.0,900.629],
[46.15,900.643],[46.5,900.697],[46.85,900.599],[47.15,900.672],[47.5,900.636],[47.85,900.685],
[48.3,900.681],[48.7,900.612],[49.1,900.654],[49.5,900.719],[49.8,900.598],[50.0,900.667],
[48.15,900.607],[48.5,900.649],[48.85,900.626],[49.15,900.663],[49.5,900.616],[49.85,900.704],
[50.4,900.636],[50.8,900.689],[51.1,900.607],[51.5,900.652],[51.9,900.703],[52.0,900.578],
[50.15,900.636],[50.5,900.673],[50.85,900.597],[51.15,900.684],[51.5,900.626],[51.85,900.651],
[52.3,900.661],[52.7,900.624],[53.1,900.694],[53.5,900.641],[53.8,900.589],[54.0,900.676],
[52.15,900.646],[52.5,900.660],[52.85,900.584],[53.15,900.607],[53.5,900.694],[53.85,900.631],
[54.4,900.613],[54.8,900.657],[55.1,900.712],[55.5,900.631],[55.8,900.671],[56.0,900.596],
[54.15,900.651],[54.5,900.670],[54.85,900.593],[55.15,900.615],[55.5,900.680],[55.85,900.636],
[56.3,900.648],[56.7,900.687],[57.1,900.619],[57.5,900.664],[57.8,900.603],[58.0,900.699],
[56.15,900.644],[56.5,900.662],[56.85,900.607],[57.15,900.619],[57.5,900.697],[57.85,900.598],
[58.4,900.632],[58.8,900.671],[59.1,900.589],[59.5,900.654],[59.8,900.612],[60.0,900.686],
[58.15,900.668],[58.5,900.680],[58.85,900.619],[59.15,900.626],[59.5,900.655],[59.85,900.582],
[60.3,900.641],[60.7,900.601],[61.1,900.667],[61.4,900.628],[61.8,900.583],[62.0,900.653],
[60.15,900.645],[60.5,900.631],[60.85,900.598],[61.15,900.589],[61.5,900.686],[61.85,900.608],
[62.4,900.615],[62.8,900.679],[63.1,900.636],[63.5,900.594],[63.8,900.651],[64.0,900.622],
[62.15,900.633],[62.5,900.655],[62.85,900.608],[63.15,900.618],[63.5,900.666],[63.85,900.579],
[64.3,900.661],[64.7,900.607],[65.1,900.638],[65.5,900.576],[65.8,900.673],[66.0,900.619],
[64.15,900.642],[64.5,900.589],[64.85,900.676],[65.15,900.613],[65.5,900.628],[65.85,900.566],
[66.4,900.642],[66.8,900.598],[67.1,900.655],[67.5,900.627],[67.8,900.586],[68.0,900.664],
[66.15,900.652],[66.5,900.597],[66.85,900.662],[67.15,900.618],[67.5,900.633],[67.85,900.575],
[68.3,900.611],[68.7,900.646],[69.1,900.579],[69.4,900.633],[69.8,900.602],[70.0,900.657],
[68.15,900.644],[68.5,900.601],[68.85,900.679],[69.15,900.580],[69.5,900.626],[69.85,900.589],
[70.4,900.624],[70.7,900.592],[71.1,900.648],[71.5,900.611],[71.8,900.574],[72.0,900.637],
[70.15,900.662],[70.5,900.608],[70.85,900.637],[71.15,900.564],[71.5,900.650],[71.85,900.601],
[72.3,900.603],[72.7,900.652],[73.1,900.586],[73.5,900.621],[73.9,900.598],[74.0,900.641],
[72.15,900.613],[72.5,900.571],[72.85,900.627],[73.15,900.590],[73.5,900.657],[73.85,900.580],
[74.4,900.579],[74.8,900.628],[75.1,900.607],[75.5,900.564],[75.8,900.645],[76.0,900.592],
[74.15,900.637],[74.5,900.600],[74.85,900.648],[75.15,900.561],[75.5,900.615],[75.85,900.590],
[76.4,900.617],[76.8,900.583],[77.1,900.634],[77.5,900.601],[77.8,900.561],[78.0,900.622],
[76.15,900.571],[76.5,900.624],[76.85,900.595],[77.15,900.648],[77.5,900.561],[77.85,900.610],
[78.3,900.594],[78.7,900.638],[79.1,900.576],[79.5,900.609],[79.8,900.553],[80.0,900.617],
[78.15,900.579],[78.5,900.634],[78.85,900.600],[79.15,900.644],[79.5,900.563],[79.85,900.615],
[80.2,900.598],[80.4,900.587],[80.6,900.621],[80.8,900.579],[80.9,900.604],[81.1,900.593],[81.2,900.637],[81.3,900.571],[81.4,900.612],[81.5,900.589],[81.6,900.648],[81.7,900.582],[81.8,900.601],[81.8,900.562],[81.9,900.596],[82.0,900.618],[81.9,900.630],
[80.15,900.585],[80.35,900.611],[80.55,900.596],[80.75,900.631],[80.95,900.574],[81.15,900.606],[81.35,900.588],[81.55,900.620],[81.75,900.599],[81.95,900.579],[81.65,900.563],[81.25,900.644],[80.45,900.640],[81.85,900.609],
// isolated points
[-79.7,900.800],[-73.5,900.794],[-59.2,900.816],[-55.0,900.788],[-43.7,900.788],
[-74.0,900.636],[-73.0,900.628],[-67.0,900.633],[-53.6,900.630],[-53.3,900.614],
[-40.7,900.620],[-39.7,900.595],[-38.1,900.566],[-36.9,900.605],[-36.4,900.528],[-35.3,900.520],[-34.8,900.599],[-34.6,900.476],[-33.6,900.446],
[-32.7,900.540],[-32.0,900.442],[-31.0,900.459],[-30.3,900.533],[-29.7,900.607],[-29.3,900.529],[-28.8,900.540],[-28.6,900.516],[-28.1,900.416],
[-27.7,900.497],[-27.1,900.540],[-26.6,900.567],[-26.6,900.588],[-25.5,900.516],[-24.8,900.532],[-23.9,900.479],[-23.6,900.599],[-23.2,900.508],
[-22.6,900.560],[-22.2,900.295],[-21.7,900.508],[-21.5,900.382],[-21.0,900.463],[-20.4,900.496],[-19.8,900.491],[-18.4,900.578],[-18.3,900.553],
[-17.6,900.416],[-17.2,900.553],[-16.7,900.349],[-15.1,900.535],[-14.5,900.524],[-14.3,900.575],[-13.8,900.558],[-12.8,900.536],[-12.6,900.583],
[-11.2,900.556],[-10.5,900.550],[-10.7,900.874],[-9.5,900.514],[-7.8,900.557],[-4.0,900.584],[5.0,900.550],[22.0,900.527],
[26.8,900.761],[32.1,900.743],[32.2,900.558],[32.9,900.543],[39.7,900.545],[41.9,900.744],[45.2,900.783],[46.3,900.544],[50.7,900.544],
[61.9,900.540],[62.9,900.544],[66.0,900.525],[73.3,900.520],[75.8,900.435],[77.4,900.540],[78.7,900.499],[80.9,900.538]
];

// ---- annotations (anchored in data coordinates) ----
const arrowDown = [[-33.2, 901.975], [-33.2, 900.946]];
const arrowBoth = [[-81.6, 900.360], [82.1, 900.261]];
const notes = [
  {text: 'April 2011', at: [-81.3, 901.834], size: 48, font: 'Liberation Sans'},
  {text: 'April 2012', at: [-81.6, 900.858], size: 48, font: 'Liberation Sans'},
  {text: 'Degradation', at: [-28.8, 901.244], size: 48, font: 'Liberation Sans'},
  {text: 'Long term (front window temperature, CCD, contamination, \u2026) ?', at: [-28.8, 901.137], size: 32, font: 'DejaVu Sans'},
  {text: 'Same behavior', at: [-28.4, 900.189], size: 48, font: 'Liberation Sans'},
  {text: 'Short term (front window temperature) ?', at: [-45.7, 900.084], size: 32, font: 'DejaVu Sans'}
];

const FONT = 'Liberation Sans, Arial, Helvetica, sans-serif';
const AXC = '#444';
const chart = echarts.init(document.getElementById('c'), null, {renderer: 'canvas'});

function xAxisDef(pos, ticks, len, labels) {
  return {
    type: 'value', position: pos, min: -90, max: 90,
    axisLine: {show: true, onZero: false, lineStyle: {color: AXC, width: 2}},
    axisTick: {show: true, inside: true, length: len, customValues: ticks, lineStyle: {color: AXC, width: 2}},
    axisLabel: labels ? {show: true, customValues: xMajorTicks, margin: 6, color: AXC, fontFamily: FONT, fontSize: 21,
      formatter: v => (v < 0 ? '\u2013' + (-v) : '' + v)} : {show: false},
    splitLine: {show: false},
    name: labels ? 'Latitude [\u00b0]' : '', nameLocation: 'middle', nameGap: 27,
    nameTextStyle: {color: '#222', fontFamily: FONT, fontSize: 21}
  };
}
function yAxisDef(pos, labels) {
  return {
    type: 'value', position: pos, min: 900, max: 902, interval: 0.2,
    axisLine: {show: true, onZero: false, lineStyle: {color: AXC, width: 2}},
    axisTick: {show: true, inside: true, length: 18, lineStyle: {color: AXC, width: 2}},
    minorTick: {show: true, splitNumber: 2, length: 9, lineStyle: {color: AXC, width: 2}},
    axisLabel: labels ? {show: true, margin: 4, color: AXC, fontFamily: FONT, fontSize: 21,
      formatter: v => String(Math.round(v * 10) / 10)} : {show: false},
    splitLine: {show: false}, minorSplitLine: {show: false},
    name: labels ? 'Radius measurement [pixels]' : '', nameLocation: 'middle', nameGap: 64,
    nameTextStyle: {color: '#222', fontFamily: FONT, fontSize: 21}
  };
}

chart.setOption({
  animation: false,
  backgroundColor: '#fff',
  grid: {left: 100, right: 11, top: 16, bottom: 52, containLabel: false, outerBoundsMode: 'none'},
  xAxis: [xAxisDef('bottom', xMajorTicks, 18, true), xAxisDef('bottom', xMinorTicks, 9, false),
          xAxisDef('top', xMajorTicks, 18, false), xAxisDef('top', xMinorTicks, 9, false)],
  yAxis: [yAxisDef('left', true), yAxisDef('right', false)],
  series: [
    {name: 'April 2011', type: 'scatter', xAxisIndex: 0, yAxisIndex: 0, data: april2011,
     symbol: 'circle', symbolSize: 3.7, silent: true, itemStyle: {color: '#3b4fa6', opacity: 0.9}},
    {name: 'April 2012', type: 'scatter', xAxisIndex: 0, yAxisIndex: 0, data: april2012,
     symbol: 'circle', symbolSize: 3.6, silent: true, itemStyle: {color: '#2a2a2a', opacity: 0.85}}
  ]
});

function px(p) { return chart.convertToPixel({xAxisIndex: 0, yAxisIndex: 0}, p); }
function arrowShapes(a, b, bothEnds) {
  const A = px(a), B = px(b);
  const out = [];
  function head(tip, from) {
    const dx = tip[0] - from[0], dy = tip[1] - from[1];
    const L = Math.hypot(dx, dy), ux = dx / L, uy = dy / L;
    const back = 24, wing = 16;
    return [[tip[0] - ux * back - uy * wing, tip[1] - uy * back + ux * wing], tip,
            [tip[0] - ux * back + uy * wing, tip[1] - uy * back - ux * wing]];
  }
  const lines = [[A, B], head(B, A)];
  if (bothEnds) lines.push(head(A, B));
  lines.forEach(pts => {
    out.push({type: 'polyline', silent: true, z: 100, shape: {points: pts},
      style: {fill: null, stroke: 'rgba(244,175,155,0.45)', lineWidth: 20, lineCap: 'round', lineJoin: 'round',
              shadowBlur: 12, shadowColor: 'rgba(244,165,145,0.6)'}});
  });
  lines.forEach(pts => {
    out.push({type: 'polyline', silent: true, z: 101, shape: {points: pts},
      style: {fill: null, stroke: '#e57a66', lineWidth: 6, lineCap: 'round', lineJoin: 'round'}});
  });
  return out;
}
const graphics = [].concat(arrowShapes(arrowDown[0], arrowDown[1], false), arrowShapes(arrowBoth[0], arrowBoth[1], true));
notes.forEach(n => {
  const p = px(n.at);
  graphics.push({type: 'text', silent: true, z: 102, x: p[0], y: p[1],
    style: {text: n.text, fill: '#ee2f26', font: n.size + 'px "' + n.font + '", sans-serif', textAlign: 'left', textVerticalAlign: 'middle'}});
});
chart.setOption({graphic: graphics});
</script>
</body></html>
